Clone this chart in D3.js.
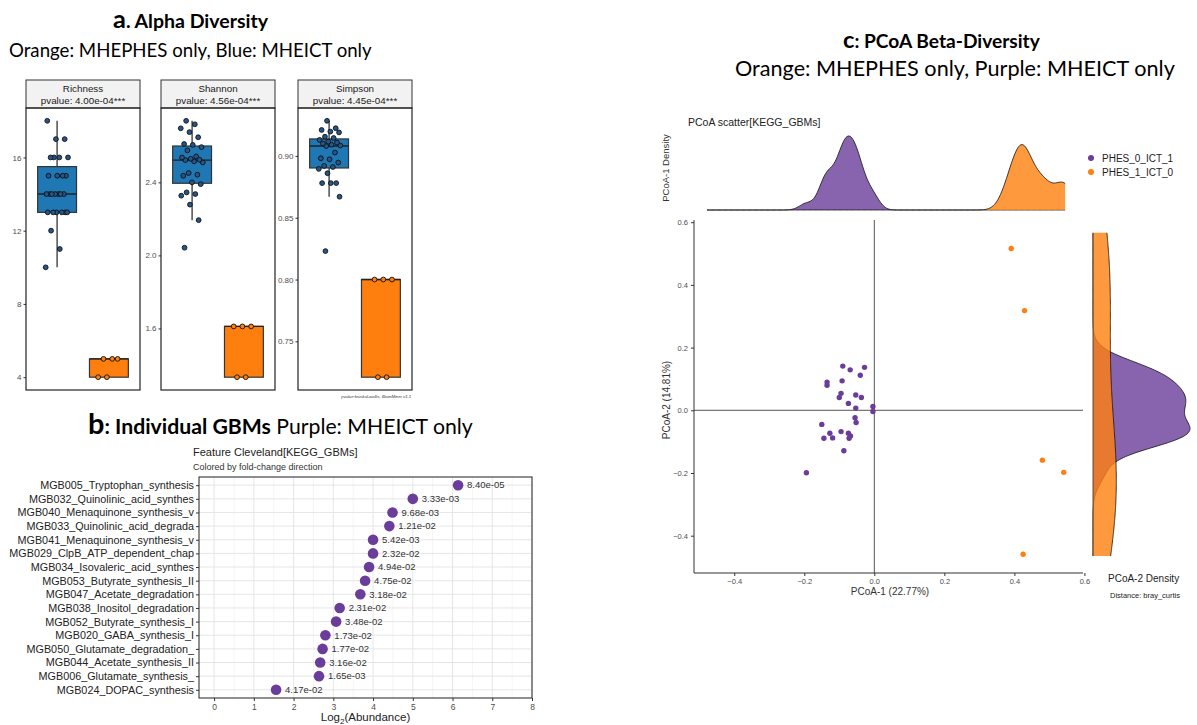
<!DOCTYPE html>
<html><head><meta charset="utf-8">
<script src="https://cdn.jsdelivr.net/npm/d3@7"></script>
<style>body{margin:0;background:#fff}svg{display:block}</style>
</head><body>
<svg id="chart" width="1197" height="725"></svg>
<script>
// ---------------- DATA ----------------
const alphaMetrics = ["Richness", "Shannon", "Simpson"];
const alphaPvalues = ["pvalue: 4.00e-04***", "pvalue: 4.56e-04***", "pvalue: 4.45e-04***"];
const alphaGroups = ["MHEICT only", "MHEPHES only"];
const richnessICT = [10,11,12,13,13,13,13,13,13,14,14,14,14,14,14,14,15,15,15,15,16,16,16,16,17,17,18];
const richnessPHES = [4,4,5,5,5];
const shannonICT = [2.042,2.193,2.278,2.327,2.336,2.345,2.390,2.400,2.436,2.442,2.451,2.509,2.515,2.522,2.524,2.529,2.536,2.542,2.575,2.593,2.605,2.610,2.647,2.675,2.696,2.718,2.737];
const shannonPHES = [1.333,1.333,1.611,1.611,1.611];
const simpsonICT = [0.823,0.867,0.878,0.878,0.878,0.886,0.8895,0.891,0.8919,0.8946,0.8973,0.8981,0.9027,0.908,0.9084,0.909,0.910,0.9108,0.9116,0.913,0.9145,0.9155,0.919,0.9197,0.921,0.9224,0.9284];
const simpsonPHES = [0.721,0.721,0.80,0.80,0.80];
const richnessTicks = [4, 8, 12, 16];
const shannonTicks = [1.6, 2.0, 2.4];
const simpsonTicks = [0.75, 0.80, 0.85, 0.90];

const gbmNames = ["MGB005_Tryptophan_synthesis","MGB032_Quinolinic_acid_synthes","MGB040_Menaquinone_synthesis_v","MGB033_Quinolinic_acid_degrada","MGB041_Menaquinone_synthesis_v","MGB029_ClpB_ATP_dependent_chap","MGB034_Isovaleric_acid_synthes","MGB053_Butyrate_synthesis_II","MGB047_Acetate_degradation","MGB038_Inositol_degradation","MGB052_Butyrate_synthesis_I","MGB020_GABA_synthesis_I","MGB050_Glutamate_degradation_","MGB044_Acetate_synthesis_II","MGB006_Glutamate_synthesis_","MGB024_DOPAC_synthesis"];
const gbmLog2 = [6.14,5.00,4.49,4.41,4.00,4.00,3.90,3.80,3.68,3.16,3.07,2.80,2.73,2.67,2.64,1.56];
const gbmPvalues = ["8.40e-05","3.33e-03","9.68e-03","1.21e-02","5.42e-03","2.32e-02","4.94e-02","4.75e-02","3.18e-02","2.31e-02","3.48e-02","1.73e-02","1.77e-02","3.16e-02","1.65e-03","4.17e-02"];
const gbmTicks = [0,1,2,3,4,5,6,7,8];

const pcoaGroups = ["PHES_0_ICT_1", "PHES_1_ICT_0"];
const ictPC1 = [-0.090,-0.069,-0.028,-0.040,-0.135,-0.135,-0.092,-0.095,-0.100,-0.053,-0.037,-0.074,-0.053,-0.004,-0.004,-0.055,-0.052,-0.150,-0.095,-0.127,-0.074,-0.068,-0.072,-0.144,-0.119,-0.087,-0.194];
const ictPC2 = [0.141,0.129,0.137,0.112,0.090,0.080,0.094,0.054,0.041,0.049,0.041,0.022,0.007,0.012,-0.004,-0.024,-0.039,-0.045,-0.068,-0.073,-0.073,-0.082,-0.089,-0.089,-0.088,-0.129,-0.199];
const phesPC1 = [0.391,0.429,0.480,0.541,0.425];
const phesPC2 = [0.516,0.318,-0.159,-0.198,-0.459];
const pcoaTicks = [-0.4,-0.2,0.0,0.2,0.4,0.6];

// ---------------- SETUP ----------------
const svg = d3.select("#chart");
const SANS = "'Liberation Sans', Arial, sans-serif";
const TITLE = "Lato, 'Open Sans', sans-serif";
const blue = "#1f77b4", orange = "#ff7f0e", purple = "#6a3d9a";

function fitWidth(textSel, w) {
  const len = textSel.node().getComputedTextLength();
  const k = w / len;
  textSel.selectAll("tspan").each(function () {
    const t = d3.select(this);
    t.attr("font-size", parseFloat(t.attr("font-size")) * k);
  });
}
function titleText(x, y, parts, w) {
  const t = svg.append("text").attr("x", x).attr("y", y).attr("font-family", TITLE).attr("fill", "#000");
  parts.forEach(p => t.append("tspan").text(p[0]).attr("font-size", p[1]).attr("font-weight", p[2]));
  fitWidth(t, w);
  return t;
}

// ---------------- TITLES ----------------
titleText(113, 28, [["a", 26, "bold"], [". Alpha Diversity", 20, "bold"]], 155);
titleText(9, 57, [["Orange: MHEPHES only, Blue: MHEICT only", 21, "normal"]], 363);
titleText(88, 434, [["b", 30, "bold"], [": Individual GBMs", 22, "bold"], [" Purple: MHEICT only", 22, "normal"]], 385);
titleText(843, 48, [["c", 26, "bold"], [": PCoA Beta-Diversity", 21, "bold"]], 197);
titleText(735, 76, [["Orange: MHEPHES only, Purple: MHEICT only", 22, "normal"]], 440);

// ---------------- PANEL A ----------------
const alphaSeries = [[richnessICT, richnessPHES], [shannonICT, shannonPHES], [simpsonICT, simpsonPHES]];
const alphaTickSets = [richnessTicks, shannonTicks, simpsonTicks];
const alphaFormats = [d3.format("d"), d3.format(".1f"), d3.format(".2f")];
const boxFill = [blue, orange], ptFill = ["#24568a", orange];
const facetLeft = [26, 161, 298], facetW = 114;
const stripTop = 80, plotTop = 108, plotBottom = 390;

alphaMetrics.forEach((m, fi) => {
  const x0 = facetLeft[fi], x1 = x0 + facetW;
  const all = alphaSeries[fi].flat();
  const ext = d3.extent(all), pad = (ext[1] - ext[0]) * 0.05;
  const y = d3.scaleLinear().domain([ext[0] - pad, ext[1] + pad]).range([plotBottom, plotTop]);
  const x = d3.scalePoint().domain(alphaGroups).range([x0, x1]).padding(0.6);
  const step = x.step(), bw = 0.75 * step;
  const g = svg.append("g");
  g.append("rect").attr("x", x0).attr("y", stripTop).attr("width", facetW).attr("height", plotTop - stripTop)
    .attr("fill", "#f2f2f2").attr("stroke", "#333").attr("stroke-width", 1);
  g.append("text").attr("x", (x0 + x1) / 2).attr("y", 91.5).attr("text-anchor", "middle")
    .attr("font-family", SANS).attr("font-size", 9.8).attr("fill", "#1a1a1a").text(m);
  g.append("text").attr("x", (x0 + x1) / 2).attr("y", 103.5).attr("text-anchor", "middle")
    .attr("font-family", SANS).attr("font-size", 9.8).attr("fill", "#1a1a1a").text(alphaPvalues[fi]);
  g.append("g").attr("transform", `translate(${x0},0)`)
    .call(d3.axisLeft(y).tickValues(alphaTickSets[fi]).tickFormat(alphaFormats[fi]).tickSize(2.5).tickPadding(2))
    .call(a => {
      a.select(".domain").remove();
      a.selectAll("text").attr("font-size", 8).attr("fill", "#4d4d4d").attr("font-family", SANS);
      a.selectAll("line").attr("stroke", "#333");
    });
  alphaGroups.forEach((grp, gi) => {
    const raw = alphaSeries[fi][gi];
    const vals = raw.slice().sort(d3.ascending);
    const q1 = d3.quantile(vals, 0.25), md = d3.quantile(vals, 0.5), q3 = d3.quantile(vals, 0.75), iqr = q3 - q1;
    const lo = d3.min(vals.filter(v => v >= q1 - 1.5 * iqr)), hi = d3.max(vals.filter(v => v <= q3 + 1.5 * iqr));
    const cx = x(grp);
    g.append("line").attr("x1", cx).attr("x2", cx).attr("y1", y(hi)).attr("y2", y(q3)).attr("stroke", "#222").attr("stroke-width", 1.2);
    g.append("line").attr("x1", cx).attr("x2", cx).attr("y1", y(q1)).attr("y2", y(lo)).attr("stroke", "#222").attr("stroke-width", 1.2);
    g.append("rect").attr("x", cx - bw / 2).attr("width", bw).attr("y", y(q3)).attr("height", Math.max(0, y(q1) - y(q3)))
      .attr("fill", boxFill[gi]).attr("stroke", "#333").attr("stroke-width", 1.2);
    g.append("line").attr("x1", cx - bw / 2).attr("x2", cx + bw / 2).attr("y1", y(md)).attr("y2", y(md)).attr("stroke", "#222").attr("stroke-width", 1.4);
    g.selectAll(null).data(vals).join("circle")
      .attr("cx", (d, i) => cx + (((i * 0.61803398875 + fi * 0.17 + gi * 0.41) % 1) - 0.5) * 2 * 0.22 * step)
      .attr("cy", d => y(d)).attr("r", 2.4)
      .attr("fill", ptFill[gi]).attr("stroke", "#111").attr("stroke-width", 0.9);
  });
  g.append("rect").attr("x", x0).attr("y", plotTop).attr("width", facetW).attr("height", plotBottom - plotTop)
    .attr("fill", "none").attr("stroke", "#222").attr("stroke-width", 1.2);
});
svg.append("text").attr("x", 411).attr("y", 398).attr("text-anchor", "end").attr("font-family", SANS)
  .attr("font-size", 4.2).attr("font-style", "italic").attr("fill", "#333").text("pvalue:kruskal-wallis, BiomMiner v1.1");

// ---------------- PANEL B ----------------
const bL = 199, bR = 532, bT = 477, bB = 698;
svg.append("text").attr("x", 193).attr("y", 456).attr("font-family", SANS).attr("font-size", 11).attr("fill", "#222").text("Feature Cleveland[KEGG_GBMs]");
svg.append("text").attr("x", 193).attr("y", 470).attr("font-family", SANS).attr("font-size", 9).attr("fill", "#333").text("Colored by fold-change direction");
const bx = d3.scaleLinear().domain([-0.38, 8]).range([bL, bR]);
const by = d3.scalePoint().domain(gbmNames).range([bT, bB]).padding(0.6);
const gb = svg.append("g");
d3.range(0, 8.01, 0.5).forEach(v => {
  gb.append("line").attr("x1", bx(v)).attr("x2", bx(v)).attr("y1", bT).attr("y2", bB)
    .attr("stroke", Number.isInteger(v) ? "#e3e3e3" : "#f0f0f0").attr("stroke-width", Number.isInteger(v) ? 0.9 : 0.7);
});
gbmNames.forEach(n => gb.append("line").attr("x1", bL).attr("x2", bR).attr("y1", by(n)).attr("y2", by(n)).attr("stroke", "#e3e3e3").attr("stroke-width", 0.9));
gb.selectAll("circle.gbm").data(gbmNames).join("circle").attr("class", "gbm")
  .attr("cx", (d, i) => bx(gbmLog2[i])).attr("cy", d => by(d)).attr("r", 5.3).attr("fill", purple);
gb.selectAll("text.pv").data(gbmNames).join("text").attr("class", "pv")
  .attr("x", (d, i) => bx(gbmLog2[i]) + 9).attr("y", d => by(d) + 3.3)
  .attr("font-family", SANS).attr("font-size", 9.5).attr("fill", "#333").text((d, i) => gbmPvalues[i]);
gb.append("rect").attr("x", bL).attr("y", bT).attr("width", bR - bL).attr("height", bB - bT).attr("fill", "none").attr("stroke", "#333").attr("stroke-width", 1.1);
gb.append("g").attr("transform", `translate(${bL},0)`).call(d3.axisLeft(by).tickSize(3).tickPadding(2))
  .call(a => {
    a.select(".domain").remove();
    a.selectAll("text").attr("font-size", 10.8).attr("fill", "#222").attr("font-family", SANS);
    a.selectAll("line").attr("stroke", "#333");
  });
gb.append("g").attr("transform", `translate(0,${bB})`).call(d3.axisBottom(bx).tickValues(gbmTicks).tickFormat(d3.format("d")).tickSize(3).tickPadding(3))
  .call(a => {
    a.select(".domain").remove();
    a.selectAll("text").attr("font-size", 8.5).attr("fill", "#4d4d4d").attr("font-family", SANS);
    a.selectAll("line").attr("stroke", "#333");
  });
const xt = gb.append("text").attr("x", (bL + bR) / 2).attr("y", 721).attr("text-anchor", "middle").attr("font-family", SANS).attr("font-size", 11.5).attr("fill", "#222");
xt.append("tspan").text("Log");
xt.append("tspan").text("2").attr("font-size", 8).attr("dy", 3);
xt.append("tspan").text("(Abundance)").attr("dy", -3);

// ---------------- PANEL C ----------------
const cL = 694, cR = 1083, cT = 220, cB = 573;
const cx = d3.scaleLinear().domain([-0.515, 0.596]).range([cL, cR]);
const cy = d3.scaleLinear().domain([-0.519, 0.607]).range([cB, cT]);
const gc = svg.append("g");
svg.append("text").attr("x", 688).attr("y", 126).attr("font-family", SANS).attr("font-size", 10.5).attr("fill", "#222").text("PCoA scatter[KEGG_GBMs]");
svg.append("text").attr("transform", "translate(669,168) rotate(-90)").attr("text-anchor", "middle").attr("font-family", SANS).attr("font-size", 9.5).attr("fill", "#333").text("PCoA-1 Density");

function nrd0(v) {
  const s = v.slice().sort(d3.ascending);
  const sd = d3.deviation(s), iqr = d3.quantile(s, 0.75) - d3.quantile(s, 0.25);
  const lo = Math.min(sd, iqr / 1.34) || sd || 1;
  return 0.9 * lo * Math.pow(s.length, -0.2);
}
function kde(v, from, to) {
  const bw = nrd0(v), n = 300;
  return d3.range(n).map(i => {
    const t = from + (to - from) * i / (n - 1);
    const d = d3.mean(v, xi => Math.exp(-0.5 * ((t - xi) / bw) ** 2)) / (bw * Math.sqrt(2 * Math.PI));
    return [t, d];
  });
}
// top marginal density
const topRange = [-0.478, 0.545];
const topD = [kde(ictPC1, topRange[0], topRange[1]), kde(phesPC1, topRange[0], topRange[1])];
const topMax = d3.max(topD.flat(), d => d[1]);
const tyS = d3.scaleLinear().domain([0, topMax]).range([210, 136]);
[purple, orange].forEach((col, i) => {
  gc.append("path").datum(topD[i]).attr("d", d3.area().x(d => cx(d[0])).y0(210).y1(d => tyS(d[1])))
    .attr("fill", col).attr("fill-opacity", 0.8);
  gc.append("path").datum(topD[i]).attr("d", d3.line().x(d => cx(d[0])).y(d => tyS(d[1])))
    .attr("fill", "none").attr("stroke", "#111").attr("stroke-width", 0.8);
});
// right marginal density
const rightRange = [-0.465, 0.566];
const rightD = [kde(ictPC2, rightRange[0], rightRange[1]), kde(phesPC2, rightRange[0], rightRange[1])];
const rightMax = d3.max(rightD.flat(), d => d[1]);
const rxS = d3.scaleLinear().domain([0, rightMax]).range([1093, 1190]);
[purple, orange].forEach((col, i) => {
  gc.append("path").datum(rightD[i]).attr("d", d3.area().y(d => cy(d[0])).x0(1093).x1(d => rxS(d[1])))
    .attr("fill", col).attr("fill-opacity", 0.8);
  gc.append("path").datum(rightD[i]).attr("d", d3.line().y(d => cy(d[0])).x(d => rxS(d[1])))
    .attr("fill", "none").attr("stroke", "#111").attr("stroke-width", 0.8);
});
gc.append("line").attr("x1", 1093).attr("x2", 1093).attr("y1", cy(rightRange[1])).attr("y2", cy(rightRange[0])).attr("stroke", "#3a2a1a").attr("stroke-width", 0.8);

// reference lines
gc.append("line").attr("x1", cx(0)).attr("x2", cx(0)).attr("y1", cT).attr("y2", cB).attr("stroke", "#555").attr("stroke-width", 1);
gc.append("line").attr("x1", cL).attr("x2", cR).attr("y1", cy(0)).attr("y2", cy(0)).attr("stroke", "#555").attr("stroke-width", 1);
// points
gc.selectAll("circle.ict").data(ictPC1).join("circle").attr("class", "ict")
  .attr("cx", d => cx(d)).attr("cy", (d, i) => cy(ictPC2[i])).attr("r", 2.7).attr("fill", purple);
gc.selectAll("circle.phes").data(phesPC1).join("circle").attr("class", "phes")
  .attr("cx", d => cx(d)).attr("cy", (d, i) => cy(phesPC2[i])).attr("r", 2.7).attr("fill", orange);
// axes
gc.append("g").attr("transform", `translate(${cL},0)`).call(d3.axisLeft(cy).tickValues(pcoaTicks).tickFormat(d3.format(".1f")).tickSize(3).tickPadding(3))
  .call(a => {
    a.select(".domain").attr("d", `M0,${cT}V${cB}`).attr("stroke", "#333");
    a.selectAll("text").attr("font-size", 7.5).attr("fill", "#4d4d4d").attr("font-family", SANS);
    a.selectAll("line").attr("stroke", "#333");
  });
gc.append("g").attr("transform", `translate(0,${cB})`).call(d3.axisBottom(cx).tickValues(pcoaTicks).tickFormat(d3.format(".1f")).tickSize(3).tickPadding(3))
  .call(a => {
    a.select(".domain").attr("d", `M${cL},0H${cR}`).attr("stroke", "#333");
    a.selectAll("text").attr("font-size", 7.5).attr("fill", "#4d4d4d").attr("font-family", SANS);
    a.selectAll("line").attr("stroke", "#333");
  });
gc.append("text").attr("x", 890).attr("y", 595).attr("text-anchor", "middle").attr("font-family", SANS).attr("font-size", 10).attr("fill", "#333").text("PCoA-1 (22.77%)");
gc.append("text").attr("transform", "translate(670,400) rotate(-90)").attr("text-anchor", "middle").attr("font-family", SANS).attr("font-size", 10).attr("fill", "#333").text("PCoA-2 (14.81%)");
// legend
[purple, orange].forEach((col, i) => {
  gc.append("circle").attr("cx", 1091).attr("cy", 158 + i * 14).attr("r", 3).attr("fill", col);
  gc.append("text").attr("x", 1102).attr("y", 161.5 + i * 14).attr("font-family", SANS).attr("font-size", 10).attr("fill", "#222").text(pcoaGroups[i]);
});
gc.append("text").attr("x", 1108).attr("y", 582).attr("font-family", SANS).attr("font-size", 10).attr("fill", "#222").text("PCoA-2 Density");
gc.append("text").attr("x", 1110).attr("y", 598).attr("font-family", SANS).attr("font-size", 7.5).attr("fill", "#222").text("Distance: bray_curtis");
</script>
</body></html>
